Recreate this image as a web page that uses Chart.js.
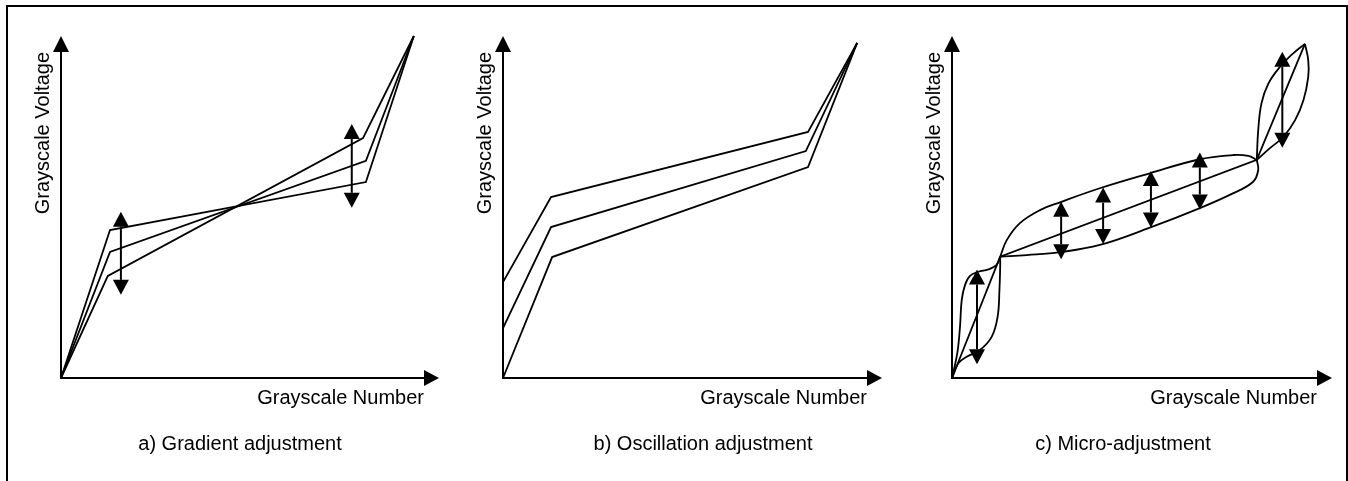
<!DOCTYPE html>
<html>
<head>
<meta charset="utf-8">
<script src="https://cdn.jsdelivr.net/npm/chart.js@4/dist/chart.umd.min.js"></script>
<style>
  html, body { margin: 0; padding: 0; background: #fff; overflow: hidden; }
  body { width: 1348px; height: 481px; position: relative; font-family: 'Liberation Sans', Arial, sans-serif; }
  .frame { position: absolute; left: 6px; top: 5px; width: 1342px; height: 520px; box-sizing: border-box;
           border-top: 2px solid #000; border-left: 2px solid #000; border-right: 2px solid #000; }
  canvas { position: absolute; top: 0; }
  .caption { position: absolute; top: 431px; font-size: 20px; line-height: 24px; color: #000;
             white-space: nowrap; transform: translateX(-50%); }
</style>
</head>
<body>
<div class="frame"></div>
<canvas id="panelA" width="428" height="481" style="left:21px"></canvas>
<canvas id="panelB" width="429" height="481" style="left:463px"></canvas>
<canvas id="panelC" width="430" height="481" style="left:912px"></canvas>
<div class="caption" style="left:240px">a) Gradient adjustment</div>
<div class="caption" style="left:703px">b) Oscillation adjustment</div>
<div class="caption" style="left:1123px">c) Micro-adjustment</div>
<script>
// Axis titles
const xTitle = 'Grayscale Number';
const yTitle = 'Grayscale Voltage';

// a) Gradient adjustment: three curves pivoting about the mid point
const gradientCurve1 = [[0, 0], [13.5, 45.4], [84.0, 60.1], [97.2, 104.9]];
const gradientCurve2 = [[0, 0], [13.5, 38.7], [84.0, 66.6], [97.2, 104.9]];
const gradientCurve3 = [[0, 0], [12.9, 31.3], [83.2, 73.6], [97.2, 104.9]];
// double arrows: [x, lower y, upper y]
const gradientArrows = [[16.5, 25.5, 51.0], [80.1, 52.2, 77.9]];

// b) Oscillation adjustment: whole curve shifted up and down
const oscillationHigh = [[0, 29.4], [13.2, 55.5], [83.8, 75.5], [97.3, 102.8]];
const oscillationMid  = [[0, 15.3], [13.2, 46.3], [83.2, 69.6], [97.3, 102.8]];
const oscillationLow  = [[0, 0],    [13.5, 37.1], [83.8, 64.7], [97.3, 102.8]];

// c) Micro-adjustment: reference polyline plus bowed curves between the nodes
const microBase = [[0, 0], [13.2, 37.2], [83.5, 66.9], [96.7, 102.5]];
const microSeg1Upper = [[0, 0], [1.45, 7.6], [2.19, 15.7], [2.66, 23.9], [3.56, 28.5], [4.93, 31.3],
                        [7.21, 32.6], [9.95, 33.3], [12.2, 34.7], [13.2, 37.2]];
const microSeg1Lower = [[0, 0], [1.73, 4.5], [4.03, 6.5], [7.67, 8.6], [10.9, 12.7], [12.5, 18.8],
                        [13.0, 27.0], [13.2, 34.1], [13.2, 37.2]];
const microSeg2Upper = [[13.2, 37.2], [15.0, 42.3], [18.6, 47.5], [24.1, 51.5], [29.6, 53.9], [40.5, 58.2],
                        [54.2, 62.8], [67.9, 67.1], [77.1, 68.4], [81.2, 68.1], [83.5, 66.9]];
const microSeg2Lower = [[13.2, 37.2], [20.5, 37.7], [29.6, 38.6], [40.5, 40.8], [54.2, 46.1], [67.9, 52.1],
                        [77.1, 56.7], [82.5, 60.2], [83.9, 63.8], [83.5, 66.9]];
const microSeg3Upper = [[83.5, 66.9], [83.9, 76.1], [84.8, 84.3], [86.7, 90.4], [89.9, 95.5], [93.5, 99.6], [96.7, 102.5]];
const microSeg3Lower = [[83.5, 66.9], [87.1, 70.5], [90.8, 74.0], [94.0, 79.1], [96.3, 85.3], [97.6, 92.4],
                        [97.6, 97.5], [96.7, 102.5]];
const microArrows = [[6.85, 4.2, 33.3], [29.9, 36.4, 54.1], [41.4, 41.1, 58.4], [54.5, 46.2, 63.5],
                     [67.9, 51.7, 69.2], [90.5, 70.6, 100.1]];

Chart.defaults.color = '#000';
Chart.defaults.font.family = "'Liberation Sans', Arial, sans-serif";

// Axes with arrow heads, and vertical double-headed arrows placed through the scales
const arrowPlugin = {
  id: 'arrowMarks',
  afterDatasetsDraw(chart, args, opts) {
    const { ctx, chartArea: area, scales: { x, y } } = chart;
    const x0 = x.getPixelForValue(0);
    const y0 = y.getPixelForValue(0);
    const head = 15, half = 8;
    ctx.save();
    ctx.strokeStyle = '#000';
    ctx.fillStyle = '#000';
    ctx.lineWidth = 2;
    ctx.lineCap = 'butt';
    // y axis
    ctx.beginPath();
    ctx.moveTo(x0, y0 + 1);
    ctx.lineTo(x0, area.top);
    ctx.stroke();
    ctx.beginPath();
    ctx.moveTo(x0, area.top - head - 1);
    ctx.lineTo(x0 - half, area.top);
    ctx.lineTo(x0 + half, area.top);
    ctx.closePath();
    ctx.fill();
    // x axis
    ctx.beginPath();
    ctx.moveTo(x0 - 1, y0);
    ctx.lineTo(area.right, y0);
    ctx.stroke();
    ctx.beginPath();
    ctx.moveTo(area.right + head, y0);
    ctx.lineTo(area.right, y0 - half);
    ctx.lineTo(area.right, y0 + half);
    ctx.closePath();
    ctx.fill();
    // double arrows
    (opts.arrows || []).forEach(([xv, lo, hi]) => {
      const px = x.getPixelForValue(xv);
      const pTop = y.getPixelForValue(hi);
      const pBot = y.getPixelForValue(lo);
      ctx.beginPath();
      ctx.moveTo(px, pTop + head);
      ctx.lineTo(px, pBot - head);
      ctx.stroke();
      ctx.beginPath();
      ctx.moveTo(px, pTop);
      ctx.lineTo(px - half, pTop + head);
      ctx.lineTo(px + half, pTop + head);
      ctx.closePath();
      ctx.fill();
      ctx.beginPath();
      ctx.moveTo(px, pBot);
      ctx.lineTo(px - half, pBot - head);
      ctx.lineTo(px + half, pBot - head);
      ctx.closePath();
      ctx.fill();
    });
    ctx.restore();
  }
};

function series(points, tension) {
  return {
    data: points.map(([x, y]) => ({ x, y })),
    showLine: true,
    borderColor: '#000',
    borderWidth: 1.8,
    pointRadius: 0,
    tension: tension || 0,
    borderJoinStyle: 'miter',
    clip: false
  };
}

function panel(id, datasets, arrows) {
  return new Chart(document.getElementById(id), {
    type: 'scatter',
    data: { datasets },
    plugins: [arrowPlugin],
    options: {
      responsive: false,
      animation: false,
      events: [],
      layout: { padding: { left: 10, right: 25, top: 52, bottom: 71 } },
      plugins: {
        legend: { display: false },
        tooltip: { enabled: false },
        arrowMarks: { arrows }
      },
      scales: {
        x: {
          type: 'linear', min: 0, max: 100,
          grid: { display: false, drawTicks: false }, border: { display: false }, ticks: { display: false },
          title: { display: true, text: xTitle, align: 'end', color: '#000',
                   font: { size: 20 }, padding: { top: 8, bottom: 0 } }
        },
        y: {
          type: 'linear', min: 0, max: 100,
          grid: { display: false, drawTicks: false }, border: { display: false }, ticks: { display: false },
          title: { display: true, text: yTitle, align: 'end', color: '#000',
                   font: { size: 20 }, padding: { top: 0, bottom: 6 } }
        }
      }
    }
  });
}

panel('panelA', [series(gradientCurve1), series(gradientCurve2), series(gradientCurve3)], gradientArrows);
panel('panelB', [series(oscillationHigh), series(oscillationMid), series(oscillationLow)], []);
panel('panelC', [
  series(microBase),
  series(microSeg1Upper, 0.4), series(microSeg1Lower, 0.4),
  series(microSeg2Upper, 0.4), series(microSeg2Lower, 0.4),
  series(microSeg3Upper, 0.4), series(microSeg3Lower, 0.4)
], microArrows);
</script>
</body>
</html>
